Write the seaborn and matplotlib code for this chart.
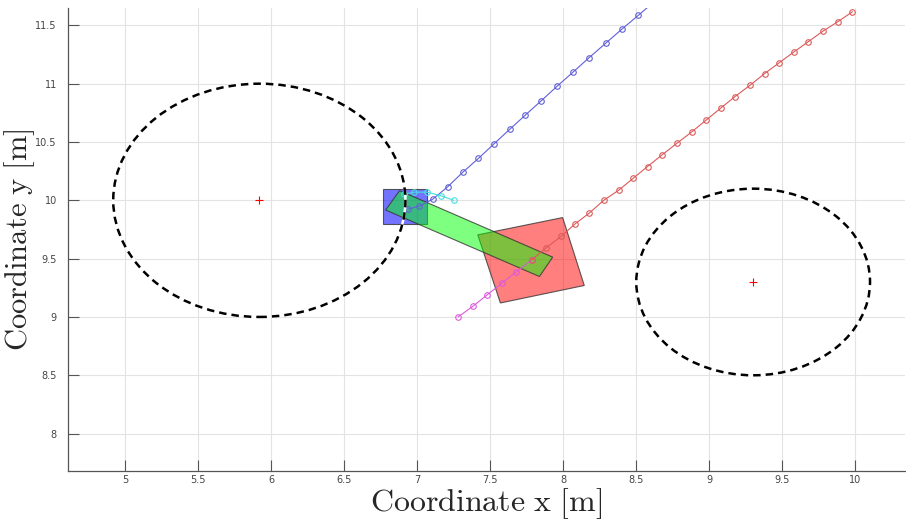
import numpy as np
import pandas as pd
import seaborn as sns
import matplotlib.pyplot as plt
from matplotlib.patches import Circle, Polygon

# Obstacles (centre, radius)
obs_x = [5.92, 9.30]
obs_y = [10.00, 9.30]
obs_r = [1.00, 0.80]

# Ego trajectory: past (magenta) and predicted (red)
past_x = [7.28, 7.38, 7.48, 7.58, 7.68, 7.785]
past_y = [9.00, 9.09, 9.19, 9.29, 9.387, 9.49]
pred_x = [7.785, 7.88, 7.985, 8.083, 8.178, 8.277, 8.379, 8.48, 8.577, 8.677, 8.777, 8.88,
          8.98, 9.078, 9.176, 9.279, 9.379, 9.479, 9.577, 9.677, 9.777, 9.878, 9.98]
pred_y = [9.49, 9.59, 9.69, 9.80, 9.89, 10.00, 10.086, 10.19, 10.29, 10.39, 10.488, 10.587,
          10.69, 10.79, 10.89, 10.987, 11.087, 11.18, 11.27, 11.36, 11.45, 11.53, 11.617]

# Other agent: past (cyan) and predicted (blue)
other_past_x = [6.91, 6.98, 7.07, 7.16, 7.25]
other_past_y = [10.05, 10.07, 10.07, 10.04, 10.00]
other_pred_x = [6.937, 7.016, 7.107, 7.21, 7.312, 7.42, 7.527, 7.633, 7.74, 7.85, 7.957,
                8.068, 8.178, 8.29, 8.40, 8.513, 8.62]
other_pred_y = [9.924, 9.95, 10.01, 10.117, 10.24, 10.36, 10.485, 10.608, 10.73, 10.854,
                10.977, 11.10, 11.224, 11.346, 11.466, 11.585, 11.70]

# Vehicle footprints (corners)
blue_box_x = [6.766, 7.066, 7.066, 6.766]
blue_box_y = [10.10, 10.10, 9.80, 9.80]
green_box_x = [6.88, 7.928, 7.837, 6.784]
green_box_y = [10.083, 9.513, 9.347, 9.917]
red_box_x = [7.415, 7.996, 8.144, 7.57]
red_box_y = [9.704, 9.852, 9.27, 9.12]

sns.set_style('white')
plt.rcParams['mathtext.fontset'] = 'cm'

fig = plt.figure(figsize=(9.06, 5.25), dpi=100)
ax = fig.add_axes([0.075, 0.103, 0.924, 0.882])

# footprints
ax.add_patch(Polygon(np.column_stack([blue_box_x, blue_box_y]), closed=True,
                     facecolor=(0.0, 0.0, 1.0, 0.55), edgecolor=(0.2, 0.2, 0.2, 0.8), lw=0.8, zorder=2))
ax.add_patch(Polygon(np.column_stack([green_box_x, green_box_y]), closed=True,
                     facecolor=(0.0, 1.0, 0.0, 0.5), edgecolor=(0.2, 0.2, 0.2, 0.8), lw=0.8, zorder=3))
ax.add_patch(Polygon(np.column_stack([red_box_x, red_box_y]), closed=True,
                     facecolor=(1.0, 0.0, 0.0, 0.5), edgecolor=(0.2, 0.2, 0.2, 0.8), lw=0.8, zorder=2))

line_kw = dict(sort=False, marker='o', markersize=4, markerfacecolor='none',
               markeredgewidth=0.8, linewidth=0.8, estimator=None, zorder=4)
sns.lineplot(x=other_pred_x, y=other_pred_y, color='#6060d8', markeredgecolor='#6060d8', ax=ax, **line_kw)
sns.lineplot(x=other_past_x, y=other_past_y, color='#46dede', markeredgecolor='#46dede', ax=ax, **line_kw)
sns.lineplot(x=past_x, y=past_y, color='#dc5adc', markeredgecolor='#dc5adc', ax=ax, **line_kw)
sns.lineplot(x=pred_x, y=pred_y, color='#dc5a5a', markeredgecolor='#dc5a5a', ax=ax, **line_kw)

# obstacles: white solid underlay so the dash gaps look white over the boxes
for cx, cy, r in zip(obs_x, obs_y, obs_r):
    ax.add_patch(Circle((cx, cy), r, fill=False, edgecolor='white', lw=1.8, zorder=5))
    ax.add_patch(Circle((cx, cy), r, fill=False, edgecolor='black', linestyle=(0, (3, 2)),
                        lw=1.8, zorder=5.5))
sns.scatterplot(x=obs_x, y=obs_y, marker='+', color='red', s=30, linewidth=0.8, ax=ax, zorder=6)

ax.set_xlim(4.61, 10.34)
ax.set_ylim(7.68, 11.65)
ax.set_xticks(np.arange(5, 10.01, 0.5))
ax.set_yticks(np.arange(8, 11.51, 0.5))
ax.set_xticklabels(['5', '5.5', '6', '6.5', '7', '7.5', '8', '8.5', '9', '9.5', '10'])
ax.set_yticklabels(['8', '8.5', '9', '9.5', '10', '10.5', '11', '11.5'])
ax.grid(True, color='#e3e3e3', linewidth=0.8)
ax.set_axisbelow(True)
ax.tick_params(direction='in', length=8, width=0.8, color='#555555', labelsize=7,
               labelcolor='#444444', bottom=True, left=True)
ax.tick_params(axis='x', pad=3)
ax.tick_params(axis='y', pad=8)
for side in ['top', 'right']:
    ax.spines[side].set_visible(False)
for side in ['bottom', 'left']:
    ax.spines[side].set_color('#555555')
    ax.spines[side].set_linewidth(0.9)

ax.set_xlabel(r'$\mathrm{Coordinate\ x\ [m]}$', fontsize=23)
ax.set_ylabel(r'$\mathrm{Coordinate\ y\ [m]}$', fontsize=22)
ax.xaxis.set_label_coords(0.5, -0.033)
ax.yaxis.set_label_coords(-0.037, 0.5)

fig.savefig('out.png', dpi=100)
